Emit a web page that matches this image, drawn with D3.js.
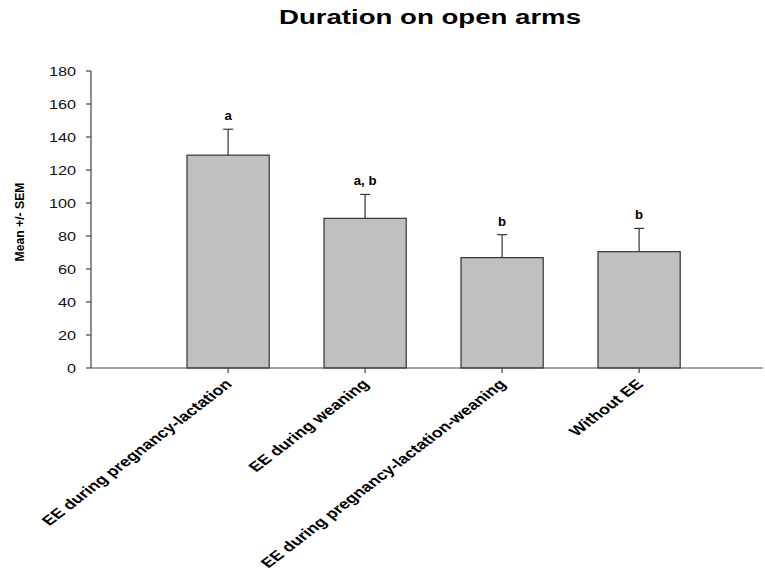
<!DOCTYPE html>
<html>
<head>
<meta charset="utf-8">
<script src="https://cdn.jsdelivr.net/npm/d3@7"></script>
<style>
  body { margin: 0; background: #fff; }
  text { font-family: "Liberation Sans", Arial, sans-serif; }
</style>
</head>
<body>
<svg id="chart" width="765" height="575"></svg>
<script>
const categories = ["EE during pregnancy-lactation", "EE during weaning", "EE during pregnancy-lactation-weaning", "Without EE"];
const means = [129, 90.7, 66.9, 70.5];
const sems = [15.7, 14.5, 13.9, 14.1];
const letters = ["a", "a, b", "b", "b"];
const yTicks = [0, 20, 40, 60, 80, 100, 120, 140, 160, 180];
const title = "Duration on open arms";
const yLabel = "Mean +/- SEM";

const svg = d3.select("#chart");
const axisColor = "#444";

const y = d3.scaleLinear().domain([0, 180]).range([368, 71]);
const x = d3.scaleBand().domain(categories).range([187, 680.2]).paddingInner(0.4).paddingOuter(0);

// Title
svg.append("text")
  .attr("transform", "translate(430,24) scale(1.38,1)")
  .attr("text-anchor", "middle")
  .attr("font-size", 20)
  .attr("font-weight", "bold")
  .attr("fill", "#000")
  .text(title);

// Y axis
const yAxisG = svg.append("g").attr("transform", "translate(91,0)");
yAxisG.append("line").attr("x1", 0).attr("x2", 0).attr("y1", y(180)).attr("y2", y(0))
  .attr("stroke", axisColor).attr("stroke-width", 1.2);
yAxisG.selectAll("line.tick").data(yTicks).enter().append("line")
  .attr("class", "tick")
  .attr("x1", -5).attr("x2", 0)
  .attr("y1", d => y(d)).attr("y2", d => y(d))
  .attr("stroke", axisColor).attr("stroke-width", 1.2);
yAxisG.selectAll("text.tl").data(yTicks).enter().append("text")
  .attr("class", "tl")
  .attr("transform", d => `translate(-15,${y(d) + 4.5}) scale(1.3,1)`)
  .attr("text-anchor", "end")
  .attr("font-size", 12.5)
  .attr("fill", "#111")
  .text(d => d);

// Y label
svg.append("text")
  .attr("transform", "translate(24,222) rotate(-90)")
  .attr("text-anchor", "middle")
  .attr("font-size", 12.2)
  .attr("font-weight", "bold")
  .attr("fill", "#000")
  .text(yLabel);

// Bars
svg.selectAll("rect.bar").data(categories).enter().append("rect")
  .attr("class", "bar")
  .attr("x", d => x(d))
  .attr("width", x.bandwidth())
  .attr("y", (d, i) => y(means[i]))
  .attr("height", (d, i) => y(0) - y(means[i]))
  .attr("fill", "#c0c0c0")
  .attr("stroke", "#333")
  .attr("stroke-width", 1.2);

// Error bars
const eg = svg.append("g");
categories.forEach((c, i) => {
  const cx = x(c) + x.bandwidth() / 2;
  const top = y(means[i] + sems[i]);
  eg.append("line").attr("x1", cx).attr("x2", cx).attr("y1", y(means[i])).attr("y2", top)
    .attr("stroke", "#333").attr("stroke-width", 1.2);
  eg.append("line").attr("x1", cx - 5).attr("x2", cx + 5).attr("y1", top).attr("y2", top)
    .attr("stroke", "#333").attr("stroke-width", 1.2);
  eg.append("text")
    .attr("transform", `translate(${cx},${top - 9}) scale(1.1,1)`)
    .attr("text-anchor", "middle")
    .attr("font-size", 12)
    .attr("font-weight", "bold")
    .attr("fill", "#000")
    .text(letters[i]);
});

// X axis
const xAxisG = svg.append("g");
xAxisG.append("line").attr("x1", 91).attr("x2", 763).attr("y1", y(0)).attr("y2", y(0))
  .attr("stroke", axisColor).attr("stroke-width", 1.2);
xAxisG.selectAll("line.xt").data(categories).enter().append("line")
  .attr("class", "xt")
  .attr("x1", d => x(d) + x.bandwidth() / 2).attr("x2", d => x(d) + x.bandwidth() / 2)
  .attr("y1", y(0)).attr("y2", y(0) + 5)
  .attr("stroke", axisColor).attr("stroke-width", 1.2);
xAxisG.selectAll("text.xl").data(categories).enter().append("text")
  .attr("class", "xl")
  .attr("transform", d => `translate(${x(d) + x.bandwidth() / 2 + 5},${y(0) + 17}) scale(1.3,1) rotate(-45)`)
  .attr("text-anchor", "end")
  .attr("font-size", 13.8)
  .attr("font-weight", "bold")
  .attr("fill", "#000")
  .text(d => d);
</script>
</body>
</html>
